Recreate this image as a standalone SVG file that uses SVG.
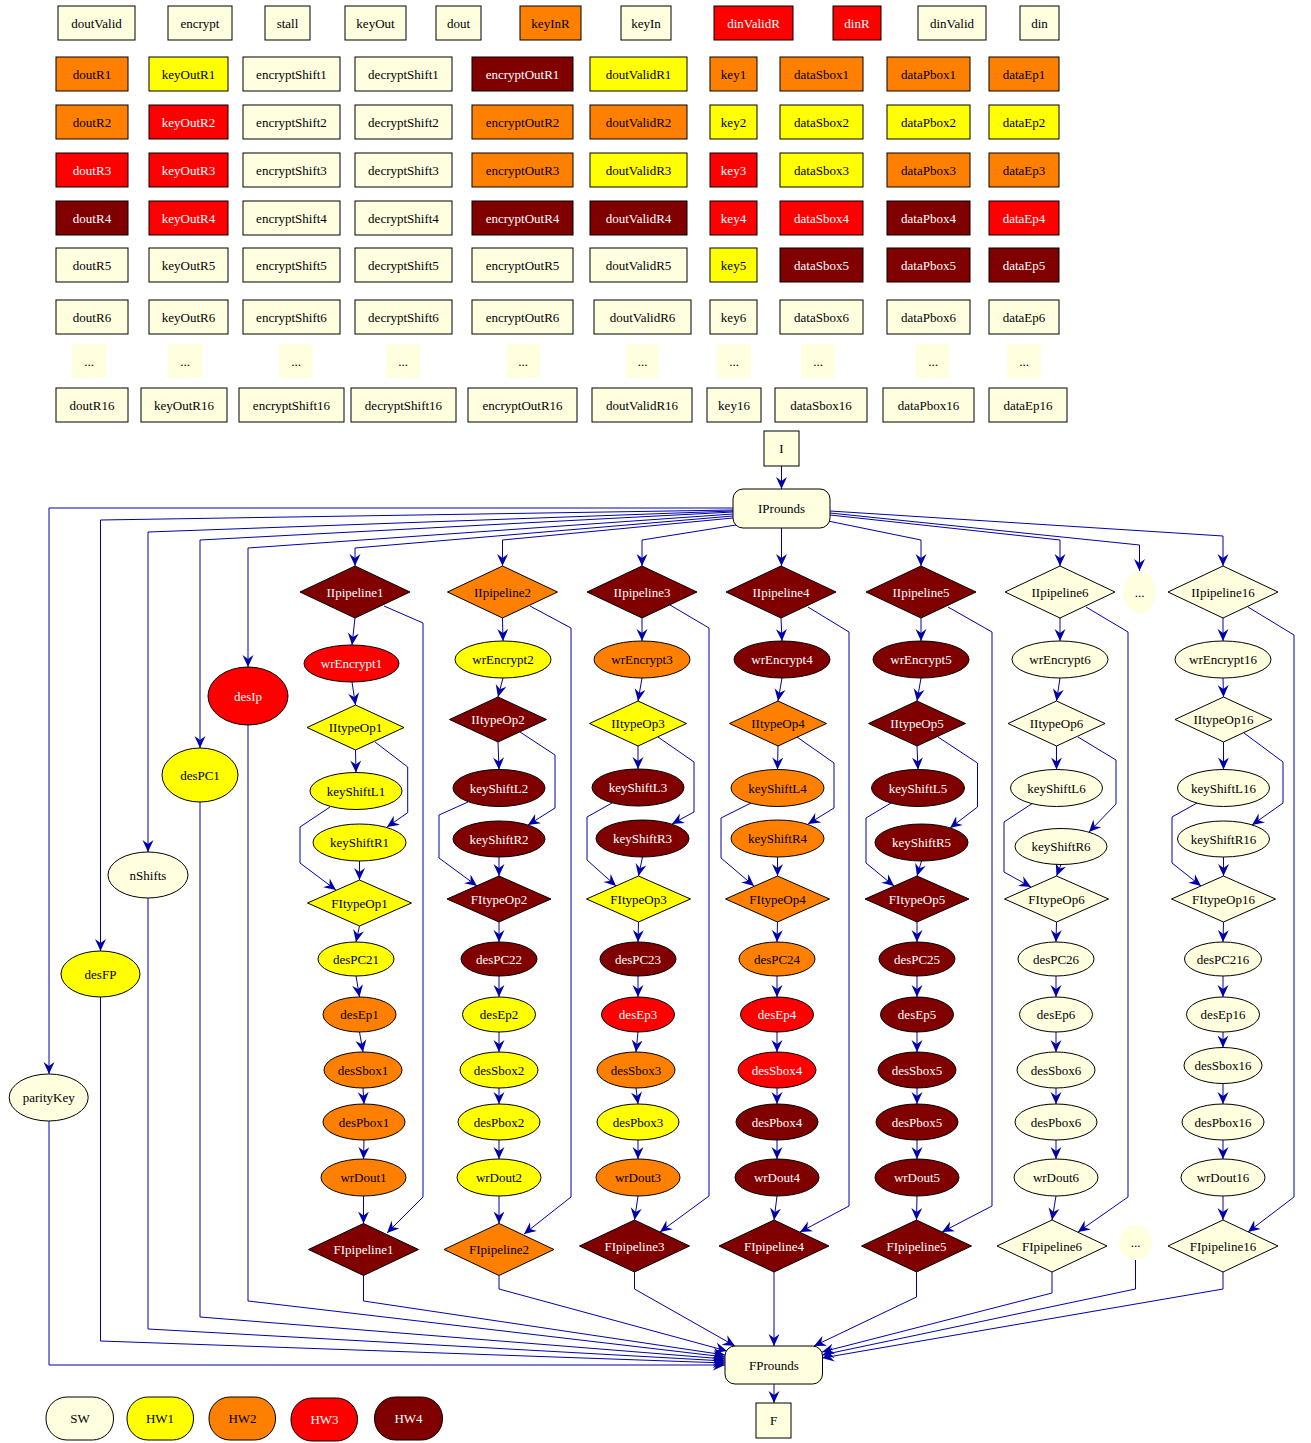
<svg xmlns="http://www.w3.org/2000/svg" width="1311" height="1443" viewBox="0 0 1311 1443">
<style>
.sw{fill:#ffffe0}.h1{fill:#ffff00}.h2{fill:#ff8000}.h3{fill:#ff0000}.h4{fill:#800000}
rect,ellipse,polygon{stroke:#000;stroke-width:1}
.nb{stroke:none}
.bg{fill:#fff;stroke:none}
text{font-family:"Liberation Serif","Times New Roman",serif;font-size:13px;text-anchor:middle;fill:#000}
text.w{fill:#fff}
#edges path{fill:none;stroke:#0000aa;stroke-width:1;marker-end:url(#ah)}
</style>
<defs>
<marker id="ah" viewBox="0 0 12 12" refX="12" refY="6" markerWidth="12" markerHeight="12" markerUnits="userSpaceOnUse" orient="auto"><path d="M0,0.5 L12,6 L0,11.5 L4,6 Z" fill="#0000aa"/></marker>
</defs>
<rect class="bg" x="0" y="0" width="1311" height="1443"/>

<!-- row 1 -->
<g id="doutValid"><rect class="sw" x="58" y="6" width="77" height="34"/><text x="96.5" y="27.5">doutValid</text></g>
<g id="encrypt"><rect class="sw" x="168" y="6" width="64" height="34"/><text x="200" y="27.5">encrypt</text></g>
<g id="stall"><rect class="sw" x="265" y="6" width="45" height="34"/><text x="287.5" y="27.5">stall</text></g>
<g id="keyOut"><rect class="sw" x="345" y="6" width="61" height="34"/><text x="375.5" y="27.5">keyOut</text></g>
<g id="dout"><rect class="sw" x="436" y="6" width="45" height="34"/><text x="458.5" y="27.5">dout</text></g>
<g id="keyInR"><rect class="h2" x="520" y="6" width="61" height="34"/><text x="550.5" y="27.5">keyInR</text></g>
<g id="keyIn"><rect class="sw" x="621" y="6" width="50" height="34"/><text x="646" y="27.5">keyIn</text></g>
<g id="dinValidR"><rect class="h3" x="714" y="6" width="79" height="34"/><text class="w" x="753.5" y="27.5">dinValidR</text></g>
<g id="dinR"><rect class="h3" x="833" y="6" width="48" height="34"/><text class="w" x="857" y="27.5">dinR</text></g>
<g id="dinValid"><rect class="sw" x="918" y="6" width="68" height="34"/><text x="952" y="27.5">dinValid</text></g>
<g id="din"><rect class="sw" x="1020" y="6" width="39" height="34"/><text x="1039.5" y="27.5">din</text></g>

<!-- row R1 -->
<g id="doutR1"><rect class="h2" x="56" y="57" width="72" height="34"/><text x="92" y="78.5">doutR1</text></g>
<g id="keyOutR1"><rect class="h1" x="149" y="57" width="79" height="34"/><text x="188.5" y="78.5">keyOutR1</text></g>
<g id="encryptShift1"><rect class="sw" x="243" y="57" width="97" height="34"/><text x="291.5" y="78.5">encryptShift1</text></g>
<g id="decryptShift1"><rect class="sw" x="355" y="57" width="97" height="34"/><text x="403.5" y="78.5">decryptShift1</text></g>
<g id="encryptOutR1"><rect class="h4" x="472" y="57" width="101" height="34"/><text class="w" x="522.5" y="78.5">encryptOutR1</text></g>
<g id="doutValidR1"><rect class="h1" x="590" y="57" width="97" height="34"/><text x="638.5" y="78.5">doutValidR1</text></g>
<g id="key1"><rect class="h2" x="710" y="57" width="47" height="34"/><text x="733.5" y="78.5">key1</text></g>
<g id="dataSbox1"><rect class="h2" x="780" y="57" width="83" height="34"/><text x="821.5" y="78.5">dataSbox1</text></g>
<g id="dataPbox1"><rect class="h2" x="887" y="57" width="83" height="34"/><text x="928.5" y="78.5">dataPbox1</text></g>
<g id="dataEp1"><rect class="h2" x="989" y="57" width="70" height="34"/><text x="1024" y="78.5">dataEp1</text></g>

<!-- row R2 -->
<g id="doutR2"><rect class="h2" x="56" y="105" width="72" height="34"/><text x="92" y="126.5">doutR2</text></g>
<g id="keyOutR2"><rect class="h3" x="149" y="105" width="79" height="34"/><text class="w" x="188.5" y="126.5">keyOutR2</text></g>
<g id="encryptShift2"><rect class="sw" x="243" y="105" width="97" height="34"/><text x="291.5" y="126.5">encryptShift2</text></g>
<g id="decryptShift2"><rect class="sw" x="355" y="105" width="97" height="34"/><text x="403.5" y="126.5">decryptShift2</text></g>
<g id="encryptOutR2"><rect class="h2" x="472" y="105" width="101" height="34"/><text x="522.5" y="126.5">encryptOutR2</text></g>
<g id="doutValidR2"><rect class="h2" x="590" y="105" width="97" height="34"/><text x="638.5" y="126.5">doutValidR2</text></g>
<g id="key2"><rect class="h1" x="710" y="105" width="47" height="34"/><text x="733.5" y="126.5">key2</text></g>
<g id="dataSbox2"><rect class="h1" x="780" y="105" width="83" height="34"/><text x="821.5" y="126.5">dataSbox2</text></g>
<g id="dataPbox2"><rect class="h1" x="887" y="105" width="83" height="34"/><text x="928.5" y="126.5">dataPbox2</text></g>
<g id="dataEp2"><rect class="h1" x="989" y="105" width="70" height="34"/><text x="1024" y="126.5">dataEp2</text></g>

<!-- row R3 -->
<g id="doutR3"><rect class="h3" x="56" y="153" width="72" height="34"/><text class="w" x="92" y="174.5">doutR3</text></g>
<g id="keyOutR3"><rect class="h3" x="149" y="153" width="79" height="34"/><text class="w" x="188.5" y="174.5">keyOutR3</text></g>
<g id="encryptShift3"><rect class="sw" x="243" y="153" width="97" height="34"/><text x="291.5" y="174.5">encryptShift3</text></g>
<g id="decryptShift3"><rect class="sw" x="355" y="153" width="97" height="34"/><text x="403.5" y="174.5">decryptShift3</text></g>
<g id="encryptOutR3"><rect class="h2" x="472" y="153" width="101" height="34"/><text x="522.5" y="174.5">encryptOutR3</text></g>
<g id="doutValidR3"><rect class="h1" x="590" y="153" width="97" height="34"/><text x="638.5" y="174.5">doutValidR3</text></g>
<g id="key3"><rect class="h3" x="710" y="153" width="47" height="34"/><text class="w" x="733.5" y="174.5">key3</text></g>
<g id="dataSbox3"><rect class="h1" x="780" y="153" width="83" height="34"/><text x="821.5" y="174.5">dataSbox3</text></g>
<g id="dataPbox3"><rect class="h2" x="887" y="153" width="83" height="34"/><text x="928.5" y="174.5">dataPbox3</text></g>
<g id="dataEp3"><rect class="h2" x="989" y="153" width="70" height="34"/><text x="1024" y="174.5">dataEp3</text></g>

<!-- row R4 -->
<g id="doutR4"><rect class="h4" x="56" y="201" width="72" height="34"/><text class="w" x="92" y="222.5">doutR4</text></g>
<g id="keyOutR4"><rect class="h3" x="149" y="201" width="79" height="34"/><text class="w" x="188.5" y="222.5">keyOutR4</text></g>
<g id="encryptShift4"><rect class="sw" x="243" y="201" width="97" height="34"/><text x="291.5" y="222.5">encryptShift4</text></g>
<g id="decryptShift4"><rect class="sw" x="355" y="201" width="97" height="34"/><text x="403.5" y="222.5">decryptShift4</text></g>
<g id="encryptOutR4"><rect class="h4" x="472" y="201" width="101" height="34"/><text class="w" x="522.5" y="222.5">encryptOutR4</text></g>
<g id="doutValidR4"><rect class="h4" x="590" y="201" width="97" height="34"/><text class="w" x="638.5" y="222.5">doutValidR4</text></g>
<g id="key4"><rect class="h3" x="710" y="201" width="47" height="34"/><text class="w" x="733.5" y="222.5">key4</text></g>
<g id="dataSbox4"><rect class="h3" x="780" y="201" width="83" height="34"/><text class="w" x="821.5" y="222.5">dataSbox4</text></g>
<g id="dataPbox4"><rect class="h4" x="887" y="201" width="83" height="34"/><text class="w" x="928.5" y="222.5">dataPbox4</text></g>
<g id="dataEp4"><rect class="h3" x="989" y="201" width="70" height="34"/><text class="w" x="1024" y="222.5">dataEp4</text></g>

<!-- row R5 -->
<g id="doutR5"><rect class="sw" x="56" y="248" width="72" height="34"/><text x="92" y="269.5">doutR5</text></g>
<g id="keyOutR5"><rect class="sw" x="149" y="248" width="79" height="34"/><text x="188.5" y="269.5">keyOutR5</text></g>
<g id="encryptShift5"><rect class="sw" x="243" y="248" width="97" height="34"/><text x="291.5" y="269.5">encryptShift5</text></g>
<g id="decryptShift5"><rect class="sw" x="355" y="248" width="97" height="34"/><text x="403.5" y="269.5">decryptShift5</text></g>
<g id="encryptOutR5"><rect class="sw" x="472" y="248" width="101" height="34"/><text x="522.5" y="269.5">encryptOutR5</text></g>
<g id="doutValidR5"><rect class="sw" x="590" y="248" width="97" height="34"/><text x="638.5" y="269.5">doutValidR5</text></g>
<g id="key5"><rect class="h1" x="710" y="248" width="47" height="34"/><text x="733.5" y="269.5">key5</text></g>
<g id="dataSbox5"><rect class="h4" x="780" y="248" width="83" height="34"/><text class="w" x="821.5" y="269.5">dataSbox5</text></g>
<g id="dataPbox5"><rect class="h4" x="887" y="248" width="83" height="34"/><text class="w" x="928.5" y="269.5">dataPbox5</text></g>
<g id="dataEp5"><rect class="h4" x="989" y="248" width="70" height="34"/><text class="w" x="1024" y="269.5">dataEp5</text></g>

<!-- row R6 -->
<g id="doutR6"><rect class="sw" x="56" y="300" width="72" height="34"/><text x="92" y="321.5">doutR6</text></g>
<g id="keyOutR6"><rect class="sw" x="149" y="300" width="79" height="34"/><text x="188.5" y="321.5">keyOutR6</text></g>
<g id="encryptShift6"><rect class="sw" x="243" y="300" width="97" height="34"/><text x="291.5" y="321.5">encryptShift6</text></g>
<g id="decryptShift6"><rect class="sw" x="355" y="300" width="97" height="34"/><text x="403.5" y="321.5">decryptShift6</text></g>
<g id="encryptOutR6"><rect class="sw" x="472" y="300" width="101" height="34"/><text x="522.5" y="321.5">encryptOutR6</text></g>
<g id="doutValidR6"><rect class="sw" x="594" y="300" width="97" height="34"/><text x="642.5" y="321.5">doutValidR6</text></g>
<g id="key6"><rect class="sw" x="710" y="300" width="47" height="34"/><text x="733.5" y="321.5">key6</text></g>
<g id="dataSbox6"><rect class="sw" x="780" y="300" width="83" height="34"/><text x="821.5" y="321.5">dataSbox6</text></g>
<g id="dataPbox6"><rect class="sw" x="887" y="300" width="83" height="34"/><text x="928.5" y="321.5">dataPbox6</text></g>
<g id="dataEp6"><rect class="sw" x="989" y="300" width="70" height="34"/><text x="1024" y="321.5">dataEp6</text></g>

<!-- dots row -->
<g id="dotsA1"><rect class="sw nb" x="72" y="344" width="34" height="34"/><text x="89" y="365.5">...</text></g>
<g id="dotsA2"><rect class="sw nb" x="168" y="344" width="34" height="34"/><text x="185" y="365.5">...</text></g>
<g id="dotsA3"><rect class="sw nb" x="279" y="344" width="34" height="34"/><text x="296" y="365.5">...</text></g>
<g id="dotsA4"><rect class="sw nb" x="386" y="344" width="34" height="34"/><text x="403" y="365.5">...</text></g>
<g id="dotsA5"><rect class="sw nb" x="506" y="344" width="34" height="34"/><text x="523" y="365.5">...</text></g>
<g id="dotsA6"><rect class="sw nb" x="626" y="344" width="33" height="34"/><text x="642.5" y="365.5">...</text></g>
<g id="dotsA7"><rect class="sw nb" x="717" y="344" width="34" height="34"/><text x="734" y="365.5">...</text></g>
<g id="dotsA8"><rect class="sw nb" x="801" y="344" width="34" height="34"/><text x="818" y="365.5">...</text></g>
<g id="dotsA9"><rect class="sw nb" x="916" y="344" width="34" height="34"/><text x="933" y="365.5">...</text></g>
<g id="dotsA10"><rect class="sw nb" x="1007" y="344" width="34" height="34"/><text x="1024" y="365.5">...</text></g>

<!-- row R16 -->
<g id="doutR16"><rect class="sw" x="56" y="388" width="72" height="34"/><text x="92" y="409.5">doutR16</text></g>
<g id="keyOutR16"><rect class="sw" x="141" y="388" width="86" height="34"/><text x="184" y="409.5">keyOutR16</text></g>
<g id="encryptShift16"><rect class="sw" x="239" y="388" width="105" height="34"/><text x="291.5" y="409.5">encryptShift16</text></g>
<g id="decryptShift16"><rect class="sw" x="351" y="388" width="105" height="34"/><text x="403.5" y="409.5">decryptShift16</text></g>
<g id="encryptOutR16"><rect class="sw" x="468" y="388" width="109" height="34"/><text x="522.5" y="409.5">encryptOutR16</text></g>
<g id="doutValidR16"><rect class="sw" x="592" y="388" width="100" height="34"/><text x="642" y="409.5">doutValidR16</text></g>
<g id="key16"><rect class="sw" x="707" y="388" width="54" height="34"/><text x="734" y="409.5">key16</text></g>
<g id="dataSbox16"><rect class="sw" x="775" y="388" width="92" height="34"/><text x="821" y="409.5">dataSbox16</text></g>
<g id="dataPbox16"><rect class="sw" x="883" y="388" width="91" height="34"/><text x="928.5" y="409.5">dataPbox16</text></g>
<g id="dataEp16"><rect class="sw" x="989" y="388" width="78" height="34"/><text x="1028" y="409.5">dataEp16</text></g>

<!-- connectors -->
<g id="edges">
<path d="M781.5,466 V489"/>
<path d="M733,508 H49 V1074"/>
<path d="M733,510 L100.5,520 V951"/>
<path d="M733,511 L148,532 V852"/>
<path d="M733,512 L200,540 V748"/>
<path d="M733,514 L248,548 V667"/>
<path d="M733,516 L355,548 V566"/>
<path d="M733,518 L502.5,540 V566"/>
<path d="M736,525 L642,540 V566"/>
<path d="M781.5,528 V566"/>
<path d="M828,521 L921,540 V566"/>
<path d="M830,515 L1060,540 V566"/>
<path d="M830,513 L1139.5,545 V571"/>
<path d="M830,511 L1223,536 V566"/>

<!-- col1 -->
<path d="M355,618 L352,645"/>
<path d="M352,682 L355.5,705"/>
<path d="M355.5,750 L356,772.5"/>
<path d="M359.5,861 L359.5,880"/>
<path d="M359.5,926 L356,942"/>
<path d="M356,976 L359.5,997"/>
<path d="M359.5,1032 L363,1052"/>
<path d="M363,1088 L364,1104"/>
<path d="M364,1140 L363.5,1159"/>
<path d="M363.5,1196 L363.5,1223.5"/>
<path d="M375,742 L407.7,767 V812.7 L387,827"/>
<path d="M330,807 L300,827 V863 L336,890"/>
<path d="M384,606 L423,623 V1197 L387,1233"/>
<!-- col2 -->
<path d="M502.5,618 L503,641"/>
<path d="M503,678 L498,697"/>
<path d="M498,742 L499,769.5"/>
<path d="M499,857 L499,876"/>
<path d="M499,922 L499,942"/>
<path d="M499,976 L499,997"/>
<path d="M499,1032 L499,1052"/>
<path d="M499,1088 L499,1104"/>
<path d="M499,1140 L499,1159"/>
<path d="M499,1196 L499,1223.5"/>
<path d="M520,732 L555,755 V808 L528,825"/>
<path d="M468,802 L439,815 V858 L477,886"/>
<path d="M530,606 L571,628 V1197 L524,1234"/>
<!-- col3 -->
<path d="M642,618 L642,641"/>
<path d="M642,678 L638,701"/>
<path d="M638,746 L638,769"/>
<path d="M642.5,857 L638.5,876"/>
<path d="M638.5,922 L638,942"/>
<path d="M638,976 L638,997"/>
<path d="M638,1032 L636,1052"/>
<path d="M636,1088 L638,1104"/>
<path d="M638,1140 L638,1159"/>
<path d="M638,1196 L634.5,1220"/>
<path d="M658,737 L694,762 V812 L672,824"/>
<path d="M612,803 L587,817 V860 L616,886"/>
<path d="M670,605 L709,628 V1196 L660,1232"/>
<!-- col4 -->
<path d="M781,618 L782,641"/>
<path d="M782,678 L778,701"/>
<path d="M778,746 L777.5,769.5"/>
<path d="M777.5,857 L777.5,876"/>
<path d="M777.5,922 L777,942"/>
<path d="M777,976 L777,997"/>
<path d="M777,1032 L777,1052"/>
<path d="M777,1088 L777,1104"/>
<path d="M777,1140 L777,1159"/>
<path d="M777,1196 L774,1220"/>
<path d="M797,737 L834,763 V808 L808,824"/>
<path d="M751,803 L721,818 V858 L754,886"/>
<path d="M808,607 L849,632 V1206 L800,1232"/>
<!-- col5 -->
<path d="M921,618 L921,641"/>
<path d="M921,678 L917,701"/>
<path d="M917,746 L918,769.5"/>
<path d="M921.5,861 L917,876"/>
<path d="M917,922 L917,942"/>
<path d="M917,976 L917,997"/>
<path d="M917,1032 L917,1052"/>
<path d="M917,1088 L917,1104"/>
<path d="M917,1140 L917,1159"/>
<path d="M917,1196 L916.5,1220"/>
<path d="M938,737 L977.5,763 V807 L950,828"/>
<path d="M891,803 L866,818 V863 L894,886"/>
<path d="M948,607 L992,632 V1206 L942,1232"/>
<!-- col6 -->
<path d="M1060,618 L1060,641"/>
<path d="M1060,678 L1056.5,701"/>
<path d="M1056.5,746 L1056.5,769.5"/>
<path d="M1061,864.5 L1056.5,876"/>
<path d="M1056.5,922 L1056,942"/>
<path d="M1056,976 L1056,997"/>
<path d="M1056,1032 L1056,1052"/>
<path d="M1056,1088 L1056,1104"/>
<path d="M1056,1140 L1056,1159"/>
<path d="M1056,1196 L1052,1220"/>
<path d="M1078,737 L1116,760 V804 L1089,832"/>
<path d="M1033,803 L1004,822 V872 L1031,887"/>
<path d="M1086,607 L1128,632 V1197 L1078,1232"/>
<!-- col16 -->
<path d="M1223,618 L1223,641"/>
<path d="M1223,678 L1223.5,697"/>
<path d="M1223.5,742 L1223.5,769.5"/>
<path d="M1223.5,857 L1223.5,876"/>
<path d="M1223.5,922 L1223,942"/>
<path d="M1223,976 L1223,997"/>
<path d="M1223,1032 L1223,1047.5"/>
<path d="M1223,1083.5 L1223,1104"/>
<path d="M1223,1140 L1223,1159"/>
<path d="M1223,1196 L1223,1220"/>
<path d="M1244,733 L1283,762 V803 L1252,825"/>
<path d="M1197,803 L1172,817 V863 L1201,886"/>
<path d="M1248,607 L1294,635 V1197 L1248,1232"/>

<!-- to FProunds -->
<path d="M49,1121 V1365 H725"/>
<path d="M100.5,997 V1341 L725,1363"/>
<path d="M148,898 V1329 L725,1361"/>
<path d="M200,802 V1317 L725,1359"/>
<path d="M248,725 V1301 L725,1357"/>
<path d="M363.5,1275.5 V1301 L725,1355"/>
<path d="M499,1275.5 V1289 L727,1351"/>
<path d="M634.5,1272 V1289 L735,1346"/>
<path d="M774,1272 V1346"/>
<path d="M916.5,1272 V1297 L814,1346"/>
<path d="M1052,1272 V1293 L822,1352"/>
<path d="M1135.5,1260 V1289 L822,1355"/>
<path d="M1223,1272 V1289 L822,1358"/>
<path d="M774,1384 V1403"/>
</g>

<!-- hub nodes -->
<g id="I"><rect class="sw" x="764" y="431" width="35" height="35"/><text x="781.5" y="453">I</text></g>
<g id="IProunds"><rect class="sw" x="733" y="489" width="97" height="39" rx="10"/><text x="781.5" y="513">IProunds</text></g>
<g id="FProunds"><rect class="sw" x="725" y="1346" width="97.5" height="38" rx="10"/><text x="774" y="1369.5">FProunds</text></g>
<g id="F"><rect class="sw" x="756" y="1403" width="35" height="35"/><text x="773.5" y="1425">F</text></g>

<!-- left nodes -->
<g id="desIp"><ellipse class="h3" cx="248" cy="696" rx="40" ry="29"/><text class="w" x="248" y="700.5">desIp</text></g>
<g id="desPC1"><ellipse class="h1" cx="200" cy="775" rx="38" ry="27"/><text x="200" y="779.5">desPC1</text></g>
<g id="nShifts"><ellipse class="sw" cx="148" cy="875" rx="40" ry="23"/><text x="148" y="879.5">nShifts</text></g>
<g id="desFP"><ellipse class="h1" cx="100.5" cy="974" rx="39.5" ry="23"/><text x="100.5" y="978.5">desFP</text></g>
<g id="parityKey"><ellipse class="sw" cx="48.7" cy="1097.5" rx="39.5" ry="23.5"/><text x="48.7" y="1102">parityKey</text></g>

<!-- column 1 -->
<g id="IIpipeline1"><polygon class="h4" points="355,566 410,592 355,618 300,592"/><text class="w" x="355" y="596.5">IIpipeline1</text></g>
<g id="wrEncrypt1"><ellipse class="h3" cx="351.5" cy="663.5" rx="47.5" ry="18.5"/><text class="w" x="351.5" y="668">wrEncrypt1</text></g>
<g id="IItypeOp1"><polygon class="h1" points="355.5,705 404,727.5 355.5,750 307,727.5"/><text x="355.5" y="732">IItypeOp1</text></g>
<g id="keyShiftL1"><ellipse class="h1" cx="356" cy="791" rx="46" ry="18.5"/><text x="356" y="795.5">keyShiftL1</text></g>
<g id="keyShiftR1"><ellipse class="h1" cx="359.5" cy="842.5" rx="46.5" ry="18.5"/><text x="359.5" y="847">keyShiftR1</text></g>
<g id="FItypeOp1"><polygon class="h1" points="359.5,880 411.5,903 359.5,926 307.5,903"/><text x="359.5" y="907.5">FItypeOp1</text></g>
<g id="desPC21"><ellipse class="h1" cx="356" cy="959" rx="38" ry="17"/><text x="356" y="963.5">desPC21</text></g>
<g id="desEp1"><ellipse class="h2" cx="359.5" cy="1014.5" rx="36.5" ry="17.5"/><text x="359.5" y="1019">desEp1</text></g>
<g id="desSbox1"><ellipse class="h2" cx="363" cy="1070" rx="39" ry="18"/><text x="363" y="1074.5">desSbox1</text></g>
<g id="desPbox1"><ellipse class="h2" cx="364" cy="1122" rx="41" ry="18"/><text x="364" y="1126.5">desPbox1</text></g>
<g id="wrDout1"><ellipse class="h2" cx="363.5" cy="1177.5" rx="42.5" ry="18.5"/><text x="363.5" y="1182">wrDout1</text></g>
<g id="FIpipeline1"><polygon class="h4" points="363.5,1223.5 418.5,1249.5 363.5,1275.5 308.5,1249.5"/><text class="w" x="363.5" y="1254">FIpipeline1</text></g>

<!-- column 2 -->
<g id="IIpipeline2"><polygon class="h2" points="502.5,566 557.5,592 502.5,618 447.5,592"/><text x="502.5" y="596.5">IIpipeline2</text></g>
<g id="wrEncrypt2"><ellipse class="h1" cx="503" cy="659.5" rx="48" ry="18.5"/><text x="503" y="664">wrEncrypt2</text></g>
<g id="IItypeOp2"><polygon class="h4" points="498,697 546.5,719.5 498,742 449.5,719.5"/><text class="w" x="498" y="724">IItypeOp2</text></g>
<g id="keyShiftL2"><ellipse class="h4" cx="499" cy="788" rx="46" ry="18.5"/><text class="w" x="499" y="792.5">keyShiftL2</text></g>
<g id="keyShiftR2"><ellipse class="h4" cx="499" cy="839" rx="46" ry="18"/><text class="w" x="499" y="843.5">keyShiftR2</text></g>
<g id="FItypeOp2"><polygon class="h4" points="499,876 551,899 499,922 447,899"/><text class="w" x="499" y="903.5">FItypeOp2</text></g>
<g id="desPC22"><ellipse class="h4" cx="499" cy="959" rx="38" ry="17"/><text class="w" x="499" y="963.5">desPC22</text></g>
<g id="desEp2"><ellipse class="h1" cx="499" cy="1014.5" rx="36.5" ry="17.5"/><text x="499" y="1019">desEp2</text></g>
<g id="desSbox2"><ellipse class="h1" cx="499" cy="1070" rx="39" ry="18"/><text x="499" y="1074.5">desSbox2</text></g>
<g id="desPbox2"><ellipse class="h1" cx="499" cy="1122" rx="41" ry="18"/><text x="499" y="1126.5">desPbox2</text></g>
<g id="wrDout2"><ellipse class="h1" cx="499" cy="1177.5" rx="42" ry="18.5"/><text x="499" y="1182">wrDout2</text></g>
<g id="FIpipeline2"><polygon class="h2" points="499,1223.5 554,1249.5 499,1275.5 444,1249.5"/><text x="499" y="1254">FIpipeline2</text></g>

<!-- column 3 -->
<g id="IIpipeline3"><polygon class="h4" points="642,566 697,592 642,618 587,592"/><text class="w" x="642" y="596.5">IIpipeline3</text></g>
<g id="wrEncrypt3"><ellipse class="h2" cx="642" cy="659.5" rx="48" ry="18.5"/><text x="642" y="664">wrEncrypt3</text></g>
<g id="IItypeOp3"><polygon class="h1" points="638,701 686.5,723.5 638,746 589.5,723.5"/><text x="638" y="728">IItypeOp3</text></g>
<g id="keyShiftL3"><ellipse class="h4" cx="638" cy="787.5" rx="46" ry="18.5"/><text class="w" x="638" y="792">keyShiftL3</text></g>
<g id="keyShiftR3"><ellipse class="h4" cx="642.5" cy="838.5" rx="46.5" ry="18.5"/><text class="w" x="642.5" y="843">keyShiftR3</text></g>
<g id="FItypeOp3"><polygon class="h1" points="638.5,876 690.5,899 638.5,922 586.5,899"/><text x="638.5" y="903.5">FItypeOp3</text></g>
<g id="desPC23"><ellipse class="h4" cx="638" cy="959" rx="38" ry="17"/><text class="w" x="638" y="963.5">desPC23</text></g>
<g id="desEp3"><ellipse class="h3" cx="638" cy="1014.5" rx="36.5" ry="17.5"/><text class="w" x="638" y="1019">desEp3</text></g>
<g id="desSbox3"><ellipse class="h2" cx="636" cy="1070" rx="39" ry="18"/><text x="636" y="1074.5">desSbox3</text></g>
<g id="desPbox3"><ellipse class="h1" cx="638" cy="1122" rx="41" ry="18"/><text x="638" y="1126.5">desPbox3</text></g>
<g id="wrDout3"><ellipse class="h2" cx="638" cy="1177.5" rx="42" ry="18.5"/><text x="638" y="1182">wrDout3</text></g>
<g id="FIpipeline3"><polygon class="h4" points="634.5,1220 689.5,1246 634.5,1272 579.5,1246"/><text class="w" x="634.5" y="1250.5">FIpipeline3</text></g>

<!-- column 4 -->
<g id="IIpipeline4"><polygon class="h4" points="781,566 836,592 781,618 726,592"/><text class="w" x="781" y="596.5">IIpipeline4</text></g>
<g id="wrEncrypt4"><ellipse class="h4" cx="782" cy="659.5" rx="48" ry="18.5"/><text class="w" x="782" y="664">wrEncrypt4</text></g>
<g id="IItypeOp4"><polygon class="h2" points="778,701 826.5,723.5 778,746 729.5,723.5"/><text x="778" y="728">IItypeOp4</text></g>
<g id="keyShiftL4"><ellipse class="h2" cx="777.5" cy="788" rx="46.5" ry="18.5"/><text x="777.5" y="792.5">keyShiftL4</text></g>
<g id="keyShiftR4"><ellipse class="h2" cx="777.5" cy="838.5" rx="46.5" ry="18.5"/><text x="777.5" y="843">keyShiftR4</text></g>
<g id="FItypeOp4"><polygon class="h2" points="777.5,876 829.5,899 777.5,922 725.5,899"/><text x="777.5" y="903.5">FItypeOp4</text></g>
<g id="desPC24"><ellipse class="h2" cx="777" cy="959" rx="38" ry="17"/><text x="777" y="963.5">desPC24</text></g>
<g id="desEp4"><ellipse class="h3" cx="777" cy="1014.5" rx="36.5" ry="17.5"/><text class="w" x="777" y="1019">desEp4</text></g>
<g id="desSbox4"><ellipse class="h3" cx="777" cy="1070" rx="39" ry="18"/><text class="w" x="777" y="1074.5">desSbox4</text></g>
<g id="desPbox4"><ellipse class="h4" cx="777" cy="1122" rx="41" ry="18"/><text class="w" x="777" y="1126.5">desPbox4</text></g>
<g id="wrDout4"><ellipse class="h4" cx="777" cy="1177.5" rx="42" ry="18.5"/><text class="w" x="777" y="1182">wrDout4</text></g>
<g id="FIpipeline4"><polygon class="h4" points="774,1220 829,1246 774,1272 719,1246"/><text class="w" x="774" y="1250.5">FIpipeline4</text></g>

<!-- column 5 -->
<g id="IIpipeline5"><polygon class="h4" points="921,566 976,592 921,618 866,592"/><text class="w" x="921" y="596.5">IIpipeline5</text></g>
<g id="wrEncrypt5"><ellipse class="h4" cx="921" cy="659.5" rx="48" ry="18.5"/><text class="w" x="921" y="664">wrEncrypt5</text></g>
<g id="IItypeOp5"><polygon class="h4" points="917,701 965.5,723.5 917,746 868.5,723.5"/><text class="w" x="917" y="728">IItypeOp5</text></g>
<g id="keyShiftL5"><ellipse class="h4" cx="918" cy="788" rx="46.5" ry="18.5"/><text class="w" x="918" y="792.5">keyShiftL5</text></g>
<g id="keyShiftR5"><ellipse class="h4" cx="921.5" cy="842.5" rx="46.5" ry="18.5"/><text class="w" x="921.5" y="847">keyShiftR5</text></g>
<g id="FItypeOp5"><polygon class="h4" points="917,876 969,899 917,922 865,899"/><text class="w" x="917" y="903.5">FItypeOp5</text></g>
<g id="desPC25"><ellipse class="h4" cx="917" cy="959" rx="38" ry="17"/><text class="w" x="917" y="963.5">desPC25</text></g>
<g id="desEp5"><ellipse class="h4" cx="917" cy="1014.5" rx="36.5" ry="17.5"/><text class="w" x="917" y="1019">desEp5</text></g>
<g id="desSbox5"><ellipse class="h4" cx="917" cy="1070" rx="39" ry="18"/><text class="w" x="917" y="1074.5">desSbox5</text></g>
<g id="desPbox5"><ellipse class="h4" cx="917" cy="1122" rx="41" ry="18"/><text class="w" x="917" y="1126.5">desPbox5</text></g>
<g id="wrDout5"><ellipse class="h4" cx="917" cy="1177.5" rx="42" ry="18.5"/><text class="w" x="917" y="1182">wrDout5</text></g>
<g id="FIpipeline5"><polygon class="h4" points="916.5,1220 971.5,1246 916.5,1272 861.5,1246"/><text class="w" x="916.5" y="1250.5">FIpipeline5</text></g>

<!-- column 6 -->
<g id="IIpipeline6"><polygon class="sw" points="1060,566 1115,592 1060,618 1005,592"/><text x="1060" y="596.5">IIpipeline6</text></g>
<g id="wrEncrypt6"><ellipse class="sw" cx="1060" cy="659.5" rx="48" ry="18.5"/><text x="1060" y="664">wrEncrypt6</text></g>
<g id="IItypeOp6"><polygon class="sw" points="1056.5,701 1105,723.5 1056.5,746 1008,723.5"/><text x="1056.5" y="728">IItypeOp6</text></g>
<g id="keyShiftL6"><ellipse class="sw" cx="1056.5" cy="788" rx="46" ry="18.5"/><text x="1056.5" y="792.5">keyShiftL6</text></g>
<g id="keyShiftR6"><ellipse class="sw" cx="1061" cy="846.5" rx="46" ry="18"/><text x="1061" y="851">keyShiftR6</text></g>
<g id="FItypeOp6"><polygon class="sw" points="1056.5,876 1108.5,899 1056.5,922 1004.5,899"/><text x="1056.5" y="903.5">FItypeOp6</text></g>
<g id="desPC26"><ellipse class="sw" cx="1056" cy="959" rx="38" ry="17"/><text x="1056" y="963.5">desPC26</text></g>
<g id="desEp6"><ellipse class="sw" cx="1056" cy="1014.5" rx="36.5" ry="17.5"/><text x="1056" y="1019">desEp6</text></g>
<g id="desSbox6"><ellipse class="sw" cx="1056" cy="1070" rx="39" ry="18"/><text x="1056" y="1074.5">desSbox6</text></g>
<g id="desPbox6"><ellipse class="sw" cx="1056" cy="1122" rx="41" ry="18"/><text x="1056" y="1126.5">desPbox6</text></g>
<g id="wrDout6"><ellipse class="sw" cx="1056" cy="1177.5" rx="42" ry="18.5"/><text x="1056" y="1182">wrDout6</text></g>
<g id="FIpipeline6"><polygon class="sw" points="1052,1220 1107,1246 1052,1272 997,1246"/><text x="1052" y="1250.5">FIpipeline6</text></g>

<!-- dots between 6 and 16 -->
<g id="dotsB1"><ellipse class="sw nb" cx="1139.5" cy="592" rx="16.5" ry="21"/><text x="1139.5" y="596.5">...</text></g>
<g id="dotsB2"><ellipse class="sw nb" cx="1135.5" cy="1242.5" rx="16.5" ry="17.5"/><text x="1135.5" y="1247">...</text></g>

<!-- column 16 -->
<g id="IIpipeline16"><polygon class="sw" points="1223,566 1278,592 1223,618 1168,592"/><text x="1223" y="596.5">IIpipeline16</text></g>
<g id="wrEncrypt16"><ellipse class="sw" cx="1223" cy="659.5" rx="48" ry="18.5"/><text x="1223" y="664">wrEncrypt16</text></g>
<g id="IItypeOp16"><polygon class="sw" points="1223.5,697 1272,719.5 1223.5,742 1175,719.5"/><text x="1223.5" y="724">IItypeOp16</text></g>
<g id="keyShiftL16"><ellipse class="sw" cx="1223.5" cy="788" rx="46" ry="18.5"/><text x="1223.5" y="792.5">keyShiftL16</text></g>
<g id="keyShiftR16"><ellipse class="sw" cx="1223.5" cy="839" rx="46" ry="18"/><text x="1223.5" y="843.5">keyShiftR16</text></g>
<g id="FItypeOp16"><polygon class="sw" points="1223.5,876 1275.5,899 1223.5,922 1171.5,899"/><text x="1223.5" y="903.5">FItypeOp16</text></g>
<g id="desPC216"><ellipse class="sw" cx="1223" cy="959" rx="38.5" ry="17"/><text x="1223" y="963.5">desPC216</text></g>
<g id="desEp16"><ellipse class="sw" cx="1223" cy="1014.5" rx="36.5" ry="17.5"/><text x="1223" y="1019">desEp16</text></g>
<g id="desSbox16"><ellipse class="sw" cx="1223" cy="1065.5" rx="39" ry="18"/><text x="1223" y="1070">desSbox16</text></g>
<g id="desPbox16"><ellipse class="sw" cx="1223" cy="1122" rx="41" ry="18"/><text x="1223" y="1126.5">desPbox16</text></g>
<g id="wrDout16"><ellipse class="sw" cx="1223" cy="1177.5" rx="42" ry="18.5"/><text x="1223" y="1182">wrDout16</text></g>
<g id="FIpipeline16"><polygon class="sw" points="1223,1220 1278,1246 1223,1272 1168,1246"/><text x="1223" y="1250.5">FIpipeline16</text></g>

<!-- legend -->
<g id="SW"><rect class="sw" x="46" y="1397" width="67.5" height="43" rx="21" ry="21"/><text x="80" y="1423">SW</text></g>
<g id="HW1"><rect class="h1" x="127" y="1397" width="66.5" height="43" rx="21" ry="21"/><text x="160" y="1423">HW1</text></g>
<g id="HW2"><rect class="h2" x="209" y="1397" width="66.5" height="43" rx="21" ry="21"/><text x="242.5" y="1423">HW2</text></g>
<g id="HW3"><rect class="h3" x="291" y="1398" width="66.5" height="43" rx="21" ry="21"/><text class="w" x="324.5" y="1424">HW3</text></g>
<g id="HW4"><rect class="h4" x="374.5" y="1397" width="68" height="43" rx="21" ry="21"/><text class="w" x="408.5" y="1423">HW4</text></g>
</svg>
